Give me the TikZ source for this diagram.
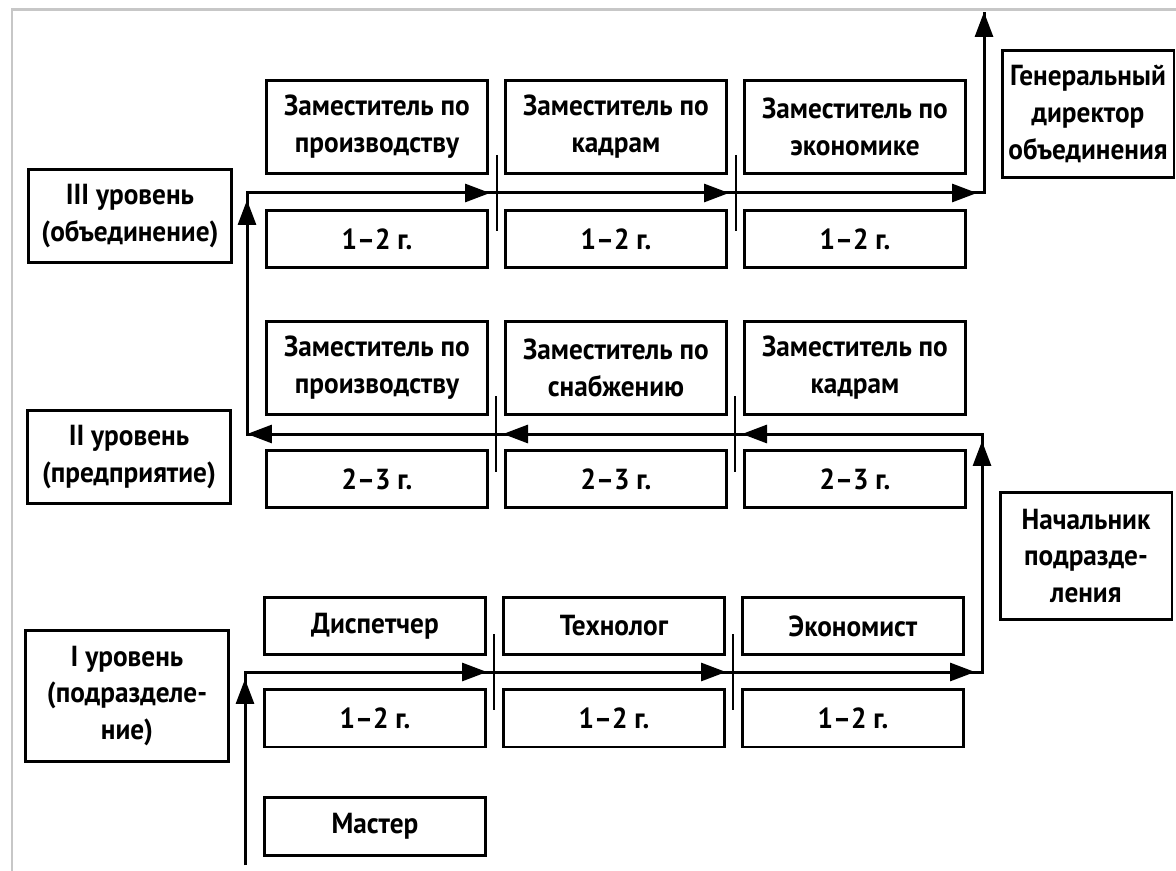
\documentclass[tikz,border=0pt]{standalone}
\usepackage{fontspec}
\setmainfont{PT Sans}[FakeStretch=0.94]
\usetikzlibrary{arrows.meta, positioning}

\tikzset{
  box/.style={draw, line width=0.06cm, inner sep=0pt, align=center,
    font=\fontsize{16.5pt}{21pt}\selectfont\bfseries},
  post/.style={box, minimum width=4.44cm, minimum height=1.88cm},
  term/.style={box, minimum width=4.44cm, minimum height=1.16cm},
  lvl/.style={box, minimum width=4.08cm},
  chief/.style={box, minimum width=3.44cm, minimum height=2.56cm},
  track/.style={line width=0.06cm, line join=miter},
  flow/.style={line width=0.06cm, -{Triangle[length=0.5cm,width=0.36cm]}, shorten >=0.14cm},
  sep/.style={line width=0.04cm},
}

\begin{document}
\begin{tikzpicture}[x=0.02cm, y=-0.02cm]
  \useasboundingbox (0,0) rectangle (1176,871);
  % photo frame
  \draw [black!22, line width=0.06cm] (12,871) -- (12,10) -- (1176,10);

  % ---- level III
  \node [lvl, minimum height=1.86cm] (L3) at (130,216) {III уровень\\(объединение)};
  \node [post] (p31) at (377,127) {Заместитель по\\производству};
  \node [post] (p32) at (616,127) {Заместитель по\\кадрам};
  \node [post] (p33) at (855,127) {Заместитель по\\экономике};
  \node [term] (t31) at (377,239) {1–2 г.};
  \node [term] (t32) at (616,239) {1–2 г.};
  \node [term] (t33) at (855,239) {1–2 г.};
  \node [chief] (gen) at (1088,114) {Генеральный\\директор\\объединения};

  % ---- level II
  \node [lvl, minimum height=1.86cm] (L2) at (129,457) {II уровень\\(предприятие)};
  \node [post] (p21) at (377,368) {Заместитель по\\производству};
  \node [post] (p22) at (616,368) {Заместитель по\\снабжению};
  \node [post] (p23) at (855,368) {Заместитель по\\кадрам};
  \node [term] (t21) at (377,479) {2–3 г.};
  \node [term] (t22) at (616,479) {2–3 г.};
  \node [term] (t23) at (855,479) {2–3 г.};
  \node [chief] (head) at (1086,556) {Начальник\\подразде-\\ления};

  % ---- level I
  \node [lvl, minimum height=2.64cm] (L1) at (127,696) {I уровень\\(подразделе-\\ние)};
  \node [term] (p11) at (375,626) {Диспетчер};
  \node [term] (p12) at (614,626) {Технолог};
  \node [term] (p13) at (853,626) {Экономист};
  \node [term] (t11) at (375,718) {1–2 г.};
  \node [term] (t12) at (614,718) {1–2 г.};
  \node [term] (t13) at (853,718) {1–2 г.};
  \node [term] (mst) at (375,826) {Мастер};

  % ---- career track
  \coordinate (a0) at (245,865);
  \coordinate (a1) at (245,672);
  \coordinate (s11) at (494,672);
  \coordinate (s12) at (733,672);
  \coordinate (a2) at (982,672);
  \coordinate (a3) at (982,434);
  \coordinate (s22) at (735,434);
  \coordinate (s21) at (496,434);
  \coordinate (a4) at (247,434);
  \coordinate (a5) at (247,193);
  \coordinate (s31) at (497,193);
  \coordinate (s32) at (736,193);
  \coordinate (a6) at (984,193);
  \coordinate (a7) at (984,12);

  \draw [track] (a0) -- (a1) -- (a2) -- (a3) -- (a4) -- (a5) -- (a6) -- (a7);
  \draw [flow] (a0) -- (a1);
  \draw [flow] (a1) -- (s11);
  \draw [flow] (s11) -- (s12);
  \draw [flow] (s12) -- (a2);
  \draw [flow] (a2) -- (a3);
  \draw [flow] (a3) -- (s22);
  \draw [flow] (s22) -- (s21);
  \draw [flow, shorten >=0pt] (s21) -- (a4);
  \draw [flow] (a4) -- (a5);
  \draw [flow] (a5) -- (s31);
  \draw [flow] (s31) -- (s32);
  \draw [flow] (s32) -- (a6);
  \draw [flow, shorten >=0pt] (a6) -- (a7);

  % ticks between columns
  \foreach \s in {s11,s12,s21,s22,s31,s32}
    \draw [sep] (\s) ++(0,-38) -- ++(0,76);
\end{tikzpicture}
\end{document}
